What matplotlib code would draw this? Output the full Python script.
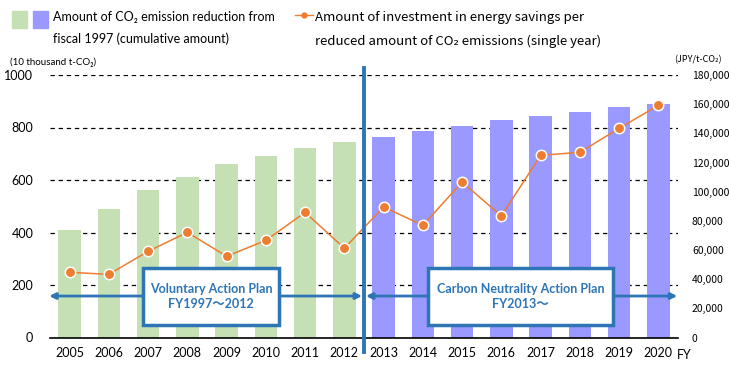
import matplotlib
matplotlib.use('Agg')

import matplotlib.pyplot as plt
from matplotlib.patches import Rectangle
from matplotlib.ticker import FuncFormatter

# --- data ---
years = ['2005', '2006', '2007', '2008', '2009', '2010', '2011', '2012',
         '2013', '2014', '2015', '2016', '2017', '2018', '2019', '2020']
reduction = [409, 490, 562, 611, 661, 692, 722, 745,
             764, 787, 806, 829, 844, 859, 878, 890]
investment = [44700, 43300, 59100, 72100, 55700, 66600, 85800, 61200,
              89500, 76900, 106600, 83300, 124900, 127000, 143400, 159200]
plan_names = ['Voluntary Action Plan\nFY1997\u301c2012',
              'Carbon Neutrality Action Plan\nFY2013\u301c']

GREEN = '#C5E0B4'
PURPLE = '#9999FF'
ORANGE = '#ED7D31'
BLUE = '#2E75B6'
EN = ['Lato', 'Noto Sans CJK JP', 'DejaVu Sans']
JP = ['Noto Sans CJK JP', 'DejaVu Sans']

plt.rcParams['font.family'] = EN

fig = plt.figure(figsize=(7.29, 3.65), dpi=100)
ax = fig.add_axes([50 / 729, 1 - 337.5 / 365, 628 / 729, 262.5 / 365])
ax2 = ax.twinx()

x = list(range(len(years)))
colors = [GREEN] * 8 + [PURPLE] * 8
ax.bar(x, reduction, width=0.57, color=colors, zorder=2)

for v in range(200, 1001, 200):
    ax.axhline(v, color='black', lw=0.9, ls=(0, (3.5, 3)), zorder=1)

ax.set_xlim(-0.5, len(years) - 0.5)
ax.set_ylim(0, 1000)
ax.set_yticks(range(0, 1001, 200))
ax.set_xticks(x)
ax.set_xticklabels(years, fontsize=9)
ax.tick_params(axis='both', length=0, labelsize=9)
ax.tick_params(axis='x', pad=7)
ax.tick_params(axis='y', pad=12)
for s in ['top', 'right', 'left']:
    ax.spines[s].set_visible(False)
ax.spines['bottom'].set_linewidth(1.2)

ax2.plot(x, investment, color=ORANGE, lw=1.1, marker='o', ms=7.5,
         markerfacecolor=ORANGE, markeredgecolor='white', markeredgewidth=1.1,
         zorder=3)
ax2.set_ylim(0, 180000)
ax2.set_yticks(range(0, 180001, 20000))
ax2.yaxis.set_major_formatter(FuncFormatter(lambda v, p: f'{int(v):,}'))
ax2.tick_params(axis='y', length=0, labelsize=7.5, pad=10)
for lab in ax2.get_yticklabels():
    lab.set_family(JP)
for s in ['top', 'right', 'left', 'bottom']:
    ax2.spines[s].set_visible(False)
ax.set_zorder(1)
ax2.set_zorder(2)
ax2.patch.set_visible(False)

# divider between plans
ax2.plot([7.5, 7.5], [-0.055, 1.027], color=BLUE, lw=2.8,
         transform=ax2.get_xaxis_transform(), clip_on=False, zorder=5)

# period arrows
arrow_y = 158 * 180
ax2.annotate('', xy=(-0.52, arrow_y), xytext=(7.45, arrow_y),
             arrowprops=dict(arrowstyle='<|-|>', color=BLUE, lw=2,
                             mutation_scale=9, shrinkA=0, shrinkB=0),
             annotation_clip=False, zorder=4)
ax2.annotate('', xy=(7.55, arrow_y), xytext=(15.48, arrow_y),
             arrowprops=dict(arrowstyle='<|-|>', color=BLUE, lw=2,
                             mutation_scale=9, shrinkA=0, shrinkB=0),
             annotation_clip=False, zorder=4)

# plan boxes
for (x0, x1), name in zip([(1.87, 5.33), (9.12, 13.85)], plan_names):
    ax2.add_patch(Rectangle((x0, 48 * 180), x1 - x0, 217 * 180,
                            facecolor='white', edgecolor=BLUE, lw=2.5,
                            zorder=6))
    ax2.text((x0 + x1) / 2, 156 * 180, name, ha='center', va='center',
             color=BLUE, fontsize=9, fontweight='bold', linespacing=1.3,
             family=EN, zorder=7)

# legend
fig.patches.append(Rectangle((12 / 729, 1 - 27.5 / 365), 15 / 729, 16 / 365,
                             transform=fig.transFigure, color=GREEN))
fig.patches.append(Rectangle((33 / 729, 1 - 27.5 / 365), 15 / 729, 16 / 365,
                             transform=fig.transFigure, color=PURPLE))
fig.text(53 / 729, 1 - 17 / 365, 'Amount of CO\u2082 emission reduction from',
         fontsize=9, va='center', family=EN)
fig.text(53 / 729, 1 - 39 / 365, 'fiscal 1997 (cumulative amount)',
         fontsize=9, va='center', family=EN)
fig.lines.append(plt.Line2D([295 / 729, 313 / 729], [1 - 15 / 365] * 2,
                            transform=fig.transFigure, color=ORANGE, lw=1))
fig.lines.append(plt.Line2D([304 / 729], [1 - 15 / 365],
                            transform=fig.transFigure, color=ORANGE,
                            marker='o', ms=3.5))
fig.text(315 / 729, 1 - 18 / 365, 'Amount of investment in energy savings per',
         fontsize=9.5, va='center', family=JP)
fig.text(315 / 729, 1 - 41 / 365,
         'reduced amount of CO\u2082 emissions (single year)',
         fontsize=9.5, va='center', family=JP)

# axis unit labels
fig.text(10 / 729, 1 - 62 / 365, '(10 thousand t-CO\u2082)', fontsize=7,
         va='center', family=EN)
fig.text(722 / 729, 1 - 60 / 365, '(JPY/t-CO\u2082)', fontsize=6.5,
         va='center', ha='right', family=JP)
fig.text(677 / 729, 1 - 355 / 365, 'FY', fontsize=9, va='center', family=EN)

fig.savefig('out.png', dpi=100)
